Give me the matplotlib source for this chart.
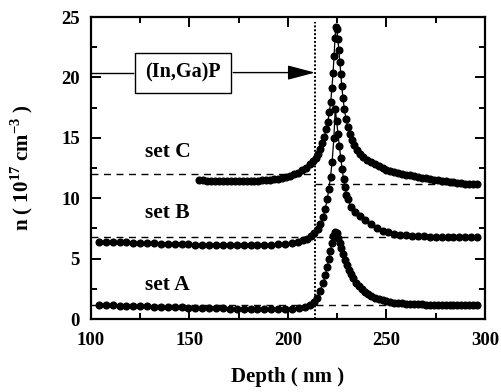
import numpy as np
import matplotlib
matplotlib.use('Agg')
import matplotlib.pyplot as plt
from matplotlib.ticker import MultipleLocator

plt.rcParams['font.family'] = ['Liberation Serif', 'DejaVu Serif']
plt.rcParams['font.weight'] = 'bold'
plt.rcParams['mathtext.fontset'] = 'custom'
plt.rcParams['mathtext.rm'] = 'Liberation Serif:bold'
plt.rcParams['mathtext.bf'] = 'Liberation Serif:bold'

# ------------------------------------------------------------
# data: depth (nm) and n (1e17 cm^-3)
# ------------------------------------------------------------
x_left = [104, 107.5, 111, 114.5, 118, 121.5, 125, 128.5, 132, 135.5, 139, 142.5,
          146, 149.5, 153, 156.5, 160, 163.5, 167, 170.5, 174, 177.5, 181, 184.5,
          188, 191.5, 195, 198.5, 202]

setA_x = x_left + [205.5, 208.5, 211, 213, 214.7, 216.3, 217.8, 219, 219.9, 220.7,
                   221.5, 222.3, 223.1, 223.9, 224.7, 225.5, 226.3, 227.1, 228, 229,
                   230, 231, 232, 233, 234.5, 236, 237.5, 239, 240.5, 242, 244, 246,
                   248, 250, 252, 254, 256, 258, 260, 262, 264, 266, 268, 270, 272,
                   274, 276, 278, 280, 282, 284, 286, 288, 290, 292, 294, 296]
setA_n = [1.16, 1.15, 1.14, 1.12, 1.11, 1.09, 1.08, 1.06, 1.04, 1.02, 1.00, 0.98,
          0.96, 0.94, 0.93, 0.92, 0.90, 0.89, 0.88, 0.87, 0.86, 0.85, 0.84, 0.83,
          0.83, 0.82, 0.82, 0.83, 0.85,
          0.90, 0.98, 1.15, 1.40, 1.75, 2.35, 3.00, 3.65, 4.30, 4.95,
          5.65, 6.30, 6.85, 7.20, 7.10, 6.75, 6.30, 5.85, 5.40, 4.90,
          4.45, 4.05, 3.70, 3.40, 3.00, 2.70, 2.45, 2.25, 2.08, 1.93, 1.78, 1.66,
          1.56, 1.48, 1.42, 1.37, 1.33, 1.30, 1.27, 1.25, 1.23, 1.22, 1.21, 1.20, 1.19,
          1.18, 1.18, 1.17, 1.17, 1.16, 1.16, 1.16, 1.15, 1.15, 1.15, 1.15, 1.15]

setB_x = x_left + [205, 207.5, 209.5, 211.5, 213.3, 215, 216.5, 217.8, 218.9, 219.9,
                   220.8, 221.6, 222.4, 223.3, 224, 224.7, 225.4, 226.1, 226.8, 227.5,
                   228.2, 228.9, 229.7, 230.5, 232, 234, 236.5, 239, 242, 245, 248,
                   251, 254, 257, 260, 263, 266, 269, 272, 275, 278, 281, 284, 287,
                   290, 293, 296]
setB_n = [6.42, 6.40, 6.38, 6.36, 6.34, 6.32, 6.30, 6.28, 6.26, 6.24, 6.22, 6.20,
          6.19, 6.18, 6.17, 6.16, 6.15, 6.14, 6.13, 6.12, 6.12, 6.12, 6.12, 6.13,
          6.14, 6.16, 6.19, 6.23, 6.30,
          6.40, 6.52, 6.66, 6.85, 7.10, 7.45, 7.90, 8.45, 9.10, 9.90,
          10.8, 11.8, 13.0, 15.0, 17.4, 16.4, 15.3, 14.3, 13.3, 12.4,
          11.6, 10.9, 10.3, 9.90, 9.30, 8.90, 8.55, 8.20, 7.85, 7.55, 7.32,
          7.17, 7.06, 6.98, 6.93, 6.89, 6.86, 6.84, 6.83, 6.82, 6.81, 6.80, 6.80, 6.80,
          6.80, 6.80, 6.80]

setC_x = [155, 157, 159, 161, 163, 165, 167, 169, 171, 173, 175, 177, 179, 181,
          183, 185, 187, 189, 191, 193, 195, 197, 199, 201, 203, 205, 207, 209, 211,
          212.5, 214, 215.3, 216.5, 217.5, 218.5, 219.4, 220.2, 221, 221.7, 222.3,
          222.9, 223.4, 223.9, 224.3, 224.8, 225.3, 225.8, 226.3, 226.8, 227.3,
          227.9, 228.6, 229.4, 230.3, 231.3, 232.4, 233.6, 235, 236.5, 238, 240,
          242, 244, 246, 248, 250, 252, 254, 256, 258, 260, 262, 264, 266, 268, 270,
          272, 274, 276, 278, 280, 282, 284, 286, 288, 290, 292, 294, 296]
setC_n = [11.50, 11.48, 11.46, 11.45, 11.44, 11.43, 11.42, 11.41, 11.40, 11.40,
          11.40, 11.40, 11.41, 11.42, 11.44, 11.46, 11.48, 11.50, 11.54, 11.58,
          11.63, 11.70, 11.78, 11.87, 11.98, 12.12, 12.30, 12.52, 12.80,
          13.05, 13.35, 13.70, 14.10, 14.55, 15.10, 15.70, 16.35, 17.10, 18.0, 19.1,
          20.4, 21.8, 23.3, 24.2, 24.0, 23.2, 22.3, 21.3, 20.3, 19.3,
          18.3, 17.4, 16.6, 15.9, 15.3, 14.8, 14.4, 14.0, 13.7, 13.45, 13.2,
          12.98, 12.8, 12.64, 12.5, 12.38, 12.28, 12.19, 12.11, 12.03, 11.96, 11.89,
          11.82, 11.76, 11.7, 11.64, 11.58, 11.53, 11.48, 11.43, 11.39, 11.35, 11.31,
          11.28, 11.25, 11.22, 11.2, 11.18, 11.17]

# reference (dashed) levels
base_A = 1.16
base_B = 6.8
base_C_left = 12.0
base_C_right = 11.15
interface = 213.7

fig = plt.figure(figsize=(5.01, 3.92), dpi=100)
ax = fig.add_axes([0.1816, 0.186, 0.7864, 0.7706])

for xs, ns in [(setA_x, setA_n), (setB_x, setB_n), (setC_x, setC_n)]:
    ax.plot(xs, ns, '-o', color='black', lw=0.9, ms=4.8, zorder=3)

dash = dict(color='black', lw=1.0, dashes=(5, 4), zorder=2)
ax.plot([100, 296], [base_A, base_A], **dash)
ax.plot([100, 296], [base_B, base_B], **dash)
ax.plot([100, interface], [base_C_left, base_C_left], **dash)
ax.plot([interface, 296], [base_C_right, base_C_right], **dash)

ax.plot([interface, interface], [0, 24.6], color='black', lw=1.4, ls=(0, (1, 1)), zorder=2)

# (In,Ga)P label with arrow to the interface
ax.plot([100, 121.3], [20.4, 20.4], color='black', lw=1.0)
ax.text(146.7, 20.4, '(In,Ga)P', ha='center', va='center', fontsize=14.5, fontweight='bold',
        bbox=dict(boxstyle='square,pad=0.5', fc='white', ec='black', lw=1.0))
ax.annotate('', xy=(interface, 20.4), xytext=(172.2, 20.4),
            arrowprops=dict(arrowstyle='-|>,head_length=1.7,head_width=0.45',
                            color='black', lw=1.0, shrinkA=0, shrinkB=0))

ax.text(138.8, 13.85, 'set C', ha='center', va='center', fontsize=15.5, fontweight='bold')
ax.text(138.8, 8.75, 'set B', ha='center', va='center', fontsize=15.5, fontweight='bold')
ax.text(138.8, 2.8, 'set A', ha='center', va='center', fontsize=15.5, fontweight='bold')

ax.set_xlim(100, 300)
ax.set_ylim(0, 25)
ax.xaxis.set_major_locator(MultipleLocator(50))
ax.xaxis.set_minor_locator(MultipleLocator(25))
ax.yaxis.set_major_locator(MultipleLocator(5))
ax.yaxis.set_minor_locator(MultipleLocator(2.5))
ax.tick_params(which='both', direction='in', top=True, right=True, width=1.4,
               labelsize=13.5)
ax.tick_params(which='major', length=7)
ax.tick_params(which='minor', length=4)
ax.tick_params(axis='x', pad=9)
ax.tick_params(axis='y', pad=8)
for s in ax.spines.values():
    s.set_linewidth(1.6)

ax.set_xlabel('Depth ( nm )', fontsize=15, fontweight='bold', labelpad=13)
ax.set_ylabel(r'n ( 10$^{17}$ cm$^{-3}$ )', fontsize=15, fontweight='bold', labelpad=19)

fig.savefig('out.png', dpi=100)
